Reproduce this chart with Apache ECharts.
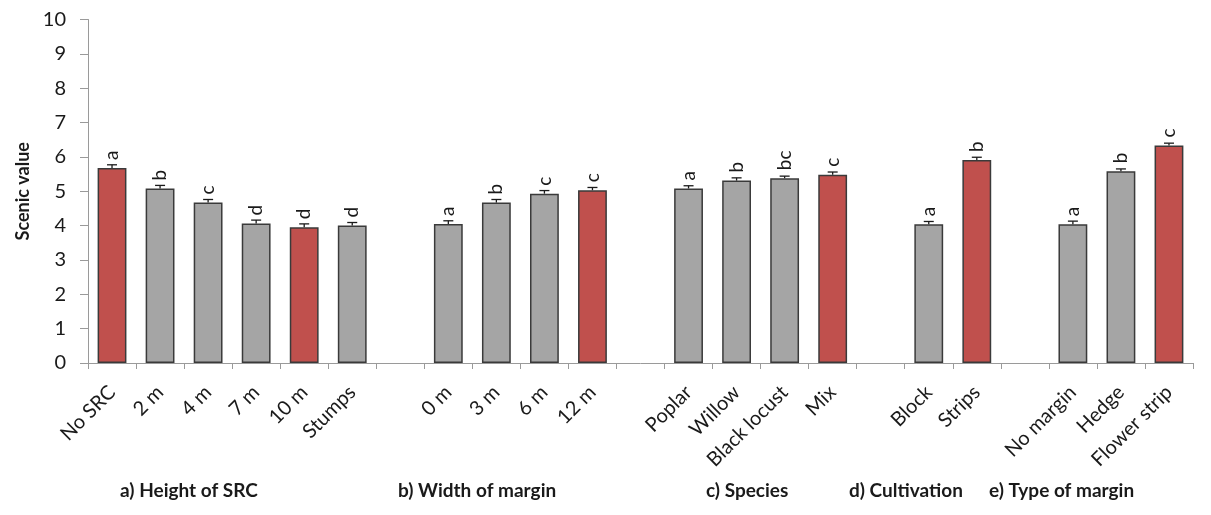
<!DOCTYPE html>
<html>
<head>
<meta charset="utf-8">
<script src="https://cdn.jsdelivr.net/npm/echarts@6/dist/echarts.min.js"></script>
<style>
html, body { margin: 0; padding: 0; background: #fff; }
#main { width: 1211px; height: 515px; }
</style>
</head>
<body>
<div id="main"></div>
<script>
// categories, empty strings are the gaps between groups
var categories = ['No SRC', '2 m', '4 m', '7 m', '10 m', 'Stumps', '',
  '0 m', '3 m', '6 m', '12 m', '',
  'Poplar', 'Willow', 'Black locust', 'Mix', '',
  'Block', 'Strips', '',
  'No margin', 'Hedge', 'Flower strip'];
var scenicValues = [5.68, 5.08, 4.67, 4.06, 3.95, 4.00, null,
  4.05, 4.67, 4.93, 5.03, null,
  5.08, 5.31, 5.38, 5.48, null,
  4.04, 5.91, null,
  4.04, 5.58, 6.33];
var errorValues = [0.09, 0.09, 0.09, 0.10, 0.10, 0.09, null,
  0.09, 0.09, 0.09, 0.08, null,
  0.08, 0.08, 0.06, 0.08, null,
  0.08, 0.08, null,
  0.09, 0.07, 0.07];
var letters = ['a', 'b', 'c', 'd', 'd', 'd', '',
  'a', 'b', 'c', 'c', '',
  'a', 'b', 'bc', 'c', '',
  'a', 'b', '',
  'a', 'b', 'c'];
var highlighted = [1, 0, 0, 0, 1, 0, 0,
  0, 0, 0, 1, 0,
  0, 0, 0, 1, 0,
  0, 1, 0,
  0, 0, 1];
var groupNames = ['a) Height of SRC', 'b) Width of margin', 'c) Species', 'd) Cultivation', 'e) Type of margin'];

var chartDom = document.getElementById('main');
var myChart = echarts.init(chartDom);
var option;

var barData = scenicValues.map(function (v, i) {
  return {
    value: v,
    itemStyle: { color: highlighted[i] ? '#c0504d' : '#a5a5a5' }
  };
});

var errData = [];
scenicValues.forEach(function (v, i) {
  if (v !== null) errData.push([i, v, errorValues[i]]);
});

var groupX = [120, 398, 706, 849, 989]; // left edge of each group caption

option = {
  backgroundColor: '#fff',
  animation: false,
  grid: {
    left: 88,
    right: 18,
    top: 19.5,
    bottom: 152
  },
  xAxis: {
    type: 'category',
    data: categories,
    boundaryGap: true,
    axisLine: { lineStyle: { color: '#9a9a9a', width: 1 } },
    axisTick: { show: true, length: 6, lineStyle: { color: '#9a9a9a' } },
    axisLabel: {
      interval: 0,
      rotate: 45,
      margin: 26,
      color: '#1a1a1a',
      fontFamily: 'Lato',
      fontSize: 20
    }
  },
  yAxis: {
    type: 'value',
    min: 0,
    max: 10,
    interval: 1,
    name: 'Scenic value',
    nameLocation: 'middle',
    nameGap: 54,
    nameTextStyle: {
      fontFamily: 'Lato',
      fontWeight: 'bold',
      fontSize: 18,
      color: '#1a1a1a'
    },
    axisLine: { show: true, lineStyle: { color: '#9a9a9a', width: 1 } },
    axisTick: { show: true, length: 8, lineStyle: { color: '#9a9a9a' } },
    axisLabel: {
      margin: 22,
      color: '#1a1a1a',
      fontFamily: 'Lato',
      fontSize: 20
    },
    splitLine: { show: false }
  },
  series: [
    {
      type: 'bar',
      data: barData,
      barWidth: '60%',
      itemStyle: {
        borderColor: '#3a3a3a',
        borderWidth: 1.5
      },
      label: {
        show: true,
        position: 'top',
        rotate: 90,
        align: 'left',
        verticalAlign: 'middle',
        distance: 8,
        color: '#1a1a1a',
        fontFamily: 'Lato',
        fontSize: 19,
        formatter: function (p) {
          return letters[p.dataIndex];
        }
      }
    },
    {
      type: 'custom',
      data: errData,
      z: 5,
      renderItem: function (params, api) {
        var i = api.value(0);
        var v = api.value(1);
        var e = api.value(2);
        var base = api.coord([i, v]);
        var top = api.coord([i, v + e]);
        var cap = 5;
        return {
          type: 'group',
          children: [
            {
              type: 'line',
              shape: { x1: base[0], y1: base[1], x2: top[0], y2: top[1] },
              style: { stroke: '#1a1a1a', lineWidth: 1.3 }
            },
            {
              type: 'line',
              shape: { x1: top[0] - cap, y1: top[1], x2: top[0] + cap, y2: top[1] },
              style: { stroke: '#1a1a1a', lineWidth: 1.3 }
            }
          ]
        };
      }
    }
  ],
  graphic: groupNames.map(function (name, k) {
    return {
      type: 'text',
      left: groupX[k],
      top: 481,
      style: {
        text: name,
        fill: '#1a1a1a',
        fontFamily: 'Lato',
        fontWeight: 'bold',
        fontSize: 19
      }
    };
  })
};

option && myChart.setOption(option);
window.addEventListener('resize', function () {
  myChart.resize();
});
</script>
</body>
</html>
